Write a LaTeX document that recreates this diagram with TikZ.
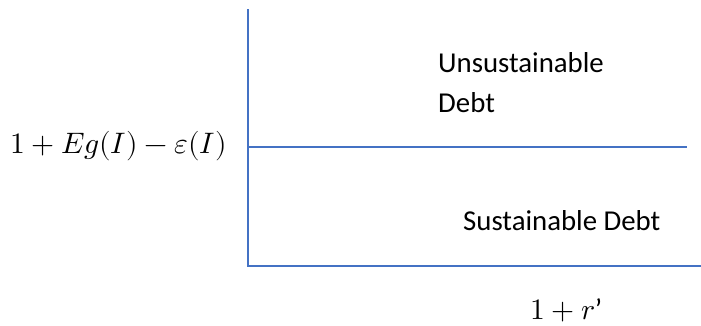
\documentclass[tikz,border=0pt]{standalone}
\usepackage{fontspec}
\usepackage{unicode-math}
\setmainfont{Carlito}
\setmathfont{Latin Modern Math}
\definecolor{axisblue}{RGB}{68,114,196}
\begin{document}
\begin{tikzpicture}[x=1pt,y=-1pt,
  axisline/.style={draw=axisblue,line width=1.8pt},
  region/.style={anchor=base west,inner sep=0pt,font=\fontsize{28.8}{34}\selectfont},
  mathlabel/.style={anchor=base west,inner sep=0pt,font=\fontsize{29.6}{34}\selectfont}]
\useasboundingbox (0,0) rectangle (701,325);
\coordinate (top) at (248,9);
\coordinate (origin) at (248,266);
\coordinate (xend) at (701,266);
\coordinate (midleft) at (249,147);
\coordinate (midright) at (687,147);
\draw[axisline] (top) -- (origin) -- (xend);
\draw[axisline] (midleft) -- (midright);
\node[mathlabel] (ylab) at (10,153) {$1+Eg(I)-\varepsilon(I)$};
\node[mathlabel] (xlab) at (530,319) {$1+r\mbox{’}$};
\node[region] (unsus) at (438,72) {Unsustainable};
\node[region] (debt) at (438,112) {Debt};
\node[region] (sus) at (463,230) {Sustainable Debt};
\end{tikzpicture}
\end{document}
